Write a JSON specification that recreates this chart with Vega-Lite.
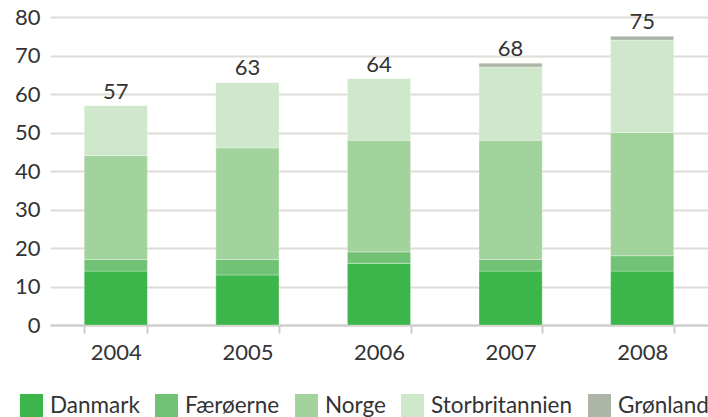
{
  "$schema": "https://vega.github.io/schema/vega-lite/v6.json",
  "width": 658,
  "height": 308,
  "autosize": {"type": "none"},
  "padding": {"left": 50, "top": 17, "right": 0, "bottom": 92},
  "background": "white",
  "config": {
    "view": {"stroke": null},
    "font": "Lato",
    "axis": {"labelFont": "Lato", "labelColor": "#333333", "labelFontSize": 22}
  },
  "data": {
    "values": [
      {"year": "2004", "country": "Danmark", "rank": 1, "value": 14},
      {"year": "2004", "country": "Færøerne", "rank": 2, "value": 3},
      {"year": "2004", "country": "Norge", "rank": 3, "value": 27},
      {"year": "2004", "country": "Storbritannien", "rank": 4, "value": 13},
      {"year": "2004", "country": "Grønland", "rank": 5, "value": 0},
      {"year": "2005", "country": "Danmark", "rank": 1, "value": 13},
      {"year": "2005", "country": "Færøerne", "rank": 2, "value": 4},
      {"year": "2005", "country": "Norge", "rank": 3, "value": 29},
      {"year": "2005", "country": "Storbritannien", "rank": 4, "value": 17},
      {"year": "2005", "country": "Grønland", "rank": 5, "value": 0},
      {"year": "2006", "country": "Danmark", "rank": 1, "value": 16},
      {"year": "2006", "country": "Færøerne", "rank": 2, "value": 3},
      {"year": "2006", "country": "Norge", "rank": 3, "value": 29},
      {"year": "2006", "country": "Storbritannien", "rank": 4, "value": 16},
      {"year": "2006", "country": "Grønland", "rank": 5, "value": 0},
      {"year": "2007", "country": "Danmark", "rank": 1, "value": 14},
      {"year": "2007", "country": "Færøerne", "rank": 2, "value": 3},
      {"year": "2007", "country": "Norge", "rank": 3, "value": 31},
      {"year": "2007", "country": "Storbritannien", "rank": 4, "value": 19},
      {"year": "2007", "country": "Grønland", "rank": 5, "value": 1},
      {"year": "2008", "country": "Danmark", "rank": 1, "value": 14},
      {"year": "2008", "country": "Færøerne", "rank": 2, "value": 4},
      {"year": "2008", "country": "Norge", "rank": 3, "value": 32},
      {"year": "2008", "country": "Storbritannien", "rank": 4, "value": 24},
      {"year": "2008", "country": "Grønland", "rank": 5, "value": 1}
    ]
  },
  "encoding": {
    "x": {
      "field": "year",
      "type": "ordinal",
      "scale": {"paddingInner": 0.52, "paddingOuter": 0.26},
      "axis": {
        "title": null,
        "labelAngle": 0,
        "tickBand": "extent",
        "domainColor": "#cccccc",
        "domainWidth": 2,
        "tickColor": "#cccccc",
        "tickWidth": 2,
        "tickSize": 8,
        "labelPadding": 9
      }
    }
  },
  "layer": [
    {
      "mark": {"type": "bar", "stroke": "white", "strokeWidth": 0.5, "strokeOpacity": 0.6},
      "encoding": {
        "y": {
          "field": "value",
          "type": "quantitative",
          "aggregate": "sum",
          "stack": "zero",
          "scale": {"domain": [0, 80]},
          "axis": {
            "title": null,
            "values": [0, 10, 20, 30, 40, 50, 60, 70, 80],
            "labelOverlap": false,
            "domain": false,
            "ticks": false,
            "labelPadding": 10,
            "gridColor": "#dddcd6",
            "gridWidth": 2
          }
        },
        "color": {
          "field": "country",
          "type": "nominal",
          "sort": ["Danmark", "Færøerne", "Norge", "Storbritannien", "Grønland"],
          "scale": {
            "domain": ["Danmark", "Færøerne", "Norge", "Storbritannien", "Grønland"],
            "range": ["#3cb54a", "#72c275", "#a3d39c", "#cfe8cb", "#adb5a8"]
          },
          "legend": {
            "title": null,
            "orient": "none",
            "direction": "horizontal",
            "legendX": -30,
            "legendY": 377,
            "symbolType": "square",
            "symbolSize": 529,
            "symbolStrokeWidth": 0,
            "symbolOpacity": 1,
            "labelFontSize": 22.5,
            "labelFont": "Lato",
            "labelColor": "#333333",
            "labelOffset": 7,
            "columnPadding": 15
          }
        },
        "order": {"field": "rank", "type": "quantitative", "sort": "ascending"}
      }
    },
    {
      "transform": [{"aggregate": [{"op": "sum", "field": "value", "as": "total"}], "groupby": ["year"]}],
      "mark": {"type": "text", "dy": -14, "fontSize": 22, "font": "Lato", "color": "#333333"},
      "encoding": {
        "y": {
          "field": "total",
          "type": "quantitative",
          "axis": {
            "title": null,
            "values": [0, 10, 20, 30, 40, 50, 60, 70, 80],
            "labelOverlap": false,
            "domain": false,
            "ticks": false,
            "labelPadding": 10,
            "gridColor": "#dddcd6",
            "gridWidth": 2
          }
        },
        "text": {"field": "total", "type": "quantitative"}
      }
    }
  ]
}
